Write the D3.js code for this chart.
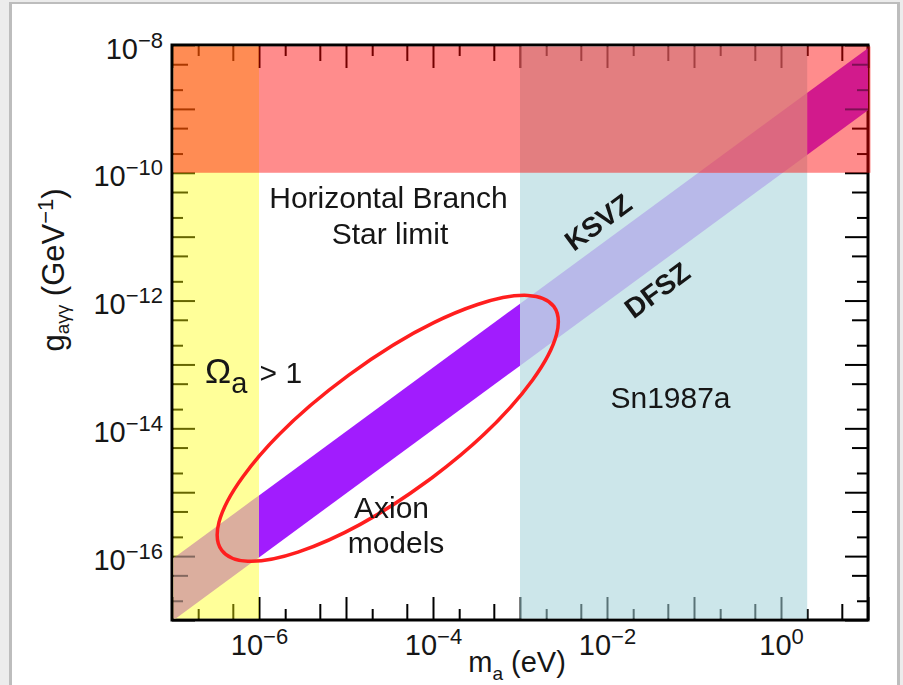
<!DOCTYPE html>
<html>
<head>
<meta charset="utf-8" />
<title>Axion coupling vs mass</title>
<style>
  body { margin: 0; background: #fff; }
  svg { display: block; }
  text { font-family: Arial, "Liberation Sans", Helvetica, sans-serif; fill: #161616; }
</style>
</head>
<body>
<div id="chart"></div>
<script src="https://cdn.jsdelivr.net/npm/d3@7"></script>
<script>
// axis ranges: m_a in eV, g in GeV^-1
var xDomain = [1e-7, 1e1];
var yDomain = [1e-17, 1e-8];
var xLabelDecades = [-6, -4, -2, 0];
var yLabelDecades = [-8, -10, -12, -14, -16];

// excluded / highlighted regions
var omegaRange = [1e-7, 1e-6];   // Omega_a > 1
var hbRange = [1e-10, 1e-8];     // horizontal branch star limit (g)
var snRange = [1e-3, 2];         // Sn1987a (m)
var modelRange = [1e-6, 1e-3];   // highlighted axion models (m)

// model lines, log10(g) = log10(m) + offset
var ksvzOffset = -9.05;
var dfszOffset = -10.02;
var bandMasses = [1e-7, 1e1];

// ellipse round the axion models, centre in log10 units
var ellipseCentre = [-4.52, -14.0];

var W = 903, H = 685;
var margin = { left: 172, top: 45, right: 35, bottom: 65 };
var plotW = W - margin.left - margin.right;
var plotH = H - margin.top - margin.bottom;

var svg = d3.select("#chart").append("svg").attr("width", W).attr("height", H);

// slide frame
svg.append("rect").attr("width", W).attr("height", H).attr("fill", "#ececec");
svg.append("rect").attr("x", 9).attr("y", 2).attr("width", 891).attr("height", H).attr("fill", "#bdbdbd");
svg.append("rect").attr("x", 12).attr("y", 4).attr("width", 885).attr("height", H).attr("fill", "#fff");

var x = d3.scaleLog().domain(xDomain).range([0, plotW]);
var y = d3.scaleLog().domain(yDomain).range([plotH, 0]);
function p10(e) { return Math.pow(10, e); }

var g = svg.append("g").attr("transform", "translate(" + margin.left + "," + margin.top + ")");
var defs = svg.append("defs");

// tick values: decades, 2x and 5x
var xMaj = d3.range(-7, 2).map(p10);
var x2 = d3.range(-7, 1).map(function(e){ return 2 * p10(e); });
var x5 = d3.range(-7, 1).map(function(e){ return 5 * p10(e); });
var yMaj = d3.range(-17, -7).map(p10);
var y2 = d3.range(-17, -8).map(function(e){ return 2 * p10(e); });
var y5 = d3.range(-17, -8).map(function(e){ return 5 * p10(e); });

function tickLayer(parent, axis, scale, vals, len, tr) {
  var a = axis(scale).tickValues(vals).tickSizeInner(-len).tickSizeOuter(0).tickFormat("");
  var s = parent.append("g").attr("transform", tr).call(a);
  s.select(".domain").remove();
  s.selectAll("line").attr("stroke", "#000").attr("stroke-width", 2);
}
function allTicks(parent) {
  var sets = [[xMaj, yMaj, 23], [x5, y5, 16], [x2, y2, 11]];
  sets.forEach(function(t) {
    tickLayer(parent, d3.axisBottom, x, t[0], t[2], "translate(0," + plotH + ")");
    tickLayer(parent, d3.axisTop, x, t[0], t[2], "translate(0,0)");
    tickLayer(parent, d3.axisLeft, y, t[1], t[2], "translate(0,0)");
    tickLayer(parent, d3.axisRight, y, t[1], t[2], "translate(" + plotW + ",0)");
  });
}
allTicks(g);

// frame
g.append("rect").attr("width", plotW).attr("height", plotH)
  .attr("fill", "none").attr("stroke", "#000").attr("stroke-width", 3);

defs.append("clipPath").attr("id", "inner").append("rect")
  .attr("x", 1.5).attr("y", 1.5).attr("width", plotW + 1).attr("height", plotH - 3);

var fills = g.append("g").attr("clip-path", "url(#inner)");

function rectOf(mr, gr) {
  return { x: x(mr[0]), y: y(gr[1]), w: x(mr[1]) - x(mr[0]), h: y(gr[0]) - y(gr[1]) };
}
function addRect(r, col, op) {
  fills.append("rect").attr("x", r.x).attr("y", r.y).attr("width", r.w).attr("height", r.h)
    .attr("fill", col).attr("fill-opacity", op);
}
addRect(rectOf(omegaRange, yDomain), "rgb(255,255,0)", 0.4);
addRect(rectOf(snRange, yDomain), "rgb(162,210,217)", 0.55);
var hb = rectOf(xDomain, hbRange); hb.w += 3;
addRect(hb, "rgb(255,0,0)", 0.45);

// KSVZ / DFSZ band
var bandArea = d3.area()
  .x(function(m){ return x(m); })
  .y0(function(m){ return y(m * p10(dfszOffset)); })
  .y1(function(m){ return y(m * p10(ksvzOffset)); });

var pieces = [
  { m: omegaRange, gr: [1e-17, hbRange[0]], col: "#dbae9e" },
  { m: modelRange, gr: yDomain, col: "#a11cfe" },
  { m: snRange, gr: [1e-17, hbRange[0]], col: "#b8b9e9" },
  { m: snRange, gr: hbRange, col: "#dc6880" },
  { m: [snRange[1], xDomain[1] * 1.1], gr: hbRange, col: "#d21a8c" }
];
pieces.forEach(function(p, i) {
  var r = rectOf(p.m, p.gr);
  defs.append("clipPath").attr("id", "piece" + i).append("rect")
    .attr("x", r.x).attr("y", r.y).attr("width", r.w).attr("height", r.h);
  fills.append("g").attr("clip-path", "url(#piece" + i + ")")
    .append("path").datum(bandMasses).attr("d", bandArea).attr("fill", p.col);
});

// ticks show faintly through the band
defs.append("clipPath").attr("id", "bandClip").append("path").datum(bandMasses).attr("d", bandArea);
var tickOver = fills.append("g").attr("clip-path", "url(#bandClip)").attr("opacity", 0.4);
allTicks(tickOver);

// band angle on screen
var ang = -Math.atan((y(1e-12) - y(1e-11)) / (x(1) - x(0.1))) * 180 / Math.PI;

// ellipse
g.append("ellipse")
  .attr("transform", "translate(" + x(p10(ellipseCentre[0])) + "," + y(p10(ellipseCentre[1])) + ") rotate(" + ang + ")")
  .attr("rx", 206).attr("ry", 66)
  .attr("fill", "none").attr("stroke", "#ff1e1e").attr("stroke-width", 3.5);

// tick labels
function setPow(t, e) {
  t.text(null);
  t.append("tspan").text("10");
  t.append("tspan").attr("font-size", 22).attr("dy", -11).text(e === 0 ? "0" : "\u2212" + Math.abs(e));
}
var xLab = g.append("g").attr("transform", "translate(0," + plotH + ")")
  .call(d3.axisBottom(x).tickValues(xLabelDecades.map(p10)).tickSize(0).tickFormat(""));
xLab.attr("font-size", null).attr("font-family", null);
xLab.select(".domain").remove();
xLab.selectAll(".tick text").attr("y", 35).attr("dy", null).attr("font-size", 29).attr("fill", "#161616")
  .each(function(d){ setPow(d3.select(this), Math.round(Math.log10(d))); });

var yLab = g.append("g")
  .call(d3.axisLeft(y).tickValues(yLabelDecades.map(p10)).tickSize(0).tickPadding(9).tickFormat(""));
yLab.attr("font-size", null).attr("font-family", null);
yLab.select(".domain").remove();
yLab.selectAll(".tick text").attr("y", 13).attr("dy", null).attr("font-size", 29).attr("fill", "#161616")
  .each(function(d){ setPow(d3.select(this), Math.round(Math.log10(d))); });

// axis titles
var yt = svg.append("text").attr("transform", "translate(64,270) rotate(-90)")
  .attr("text-anchor", "middle").attr("font-size", 31);
yt.append("tspan").text("g");
yt.append("tspan").attr("font-size", 19).attr("dy", 5).text("a\u03b3\u03b3");
yt.append("tspan").attr("dy", -5).text(" (GeV");
yt.append("tspan").attr("font-size", 22).attr("dy", -11).text("\u22121");
yt.append("tspan").attr("dy", 11).text(")");

var xt = svg.append("text").attr("x", 517).attr("y", 672)
  .attr("text-anchor", "middle").attr("font-size", 29);
xt.append("tspan").text("m");
xt.append("tspan").attr("font-size", 19).attr("dy", 8).text("a");
xt.append("tspan").attr("dy", -8).text(" (eV)");

// region labels, placed in log10 units
function at(lm, lg) { return [x(p10(lm)), y(p10(lg))]; }
function label(lm, lg, txt, size) {
  var p = at(lm, lg);
  return g.append("text").attr("x", p[0]).attr("y", p[1]).attr("text-anchor", "middle")
    .attr("font-size", size).text(txt);
}
label(-4.512, -10.551, "Horizontal Branch", 30);
label(-4.494, -11.115, "Star limit", 30);
label(-1.27, -13.68, "Sn1987a", 30);
label(-4.477, -15.403, "Axion", 30);
label(-4.425, -15.951, "models", 30);

var op = at(-6.621, -13.29);
var om = g.append("text").attr("x", op[0]).attr("y", op[1]).attr("font-size", 35);
om.append("tspan").text("\u03a9");
om.append("tspan").attr("font-size", 29).attr("dy", 10).text("a");
om.append("tspan").attr("font-size", 30).attr("dy", -10).attr("dx", 4).text(" > 1");

function slanted(lm, lg, txt) {
  var p = at(lm, lg);
  g.append("text").attr("transform", "translate(" + p[0] + "," + p[1] + ") rotate(" + ang + ")")
    .attr("text-anchor", "middle").attr("dy", "0.35em")
    .attr("font-size", 28).attr("font-weight", "bold").attr("fill", "#000").text(txt);
}
slanted(-2.103, -10.77, "KSVZ");
slanted(-1.425, -11.835, "DFSZ");
</script>
</body>
</html>
